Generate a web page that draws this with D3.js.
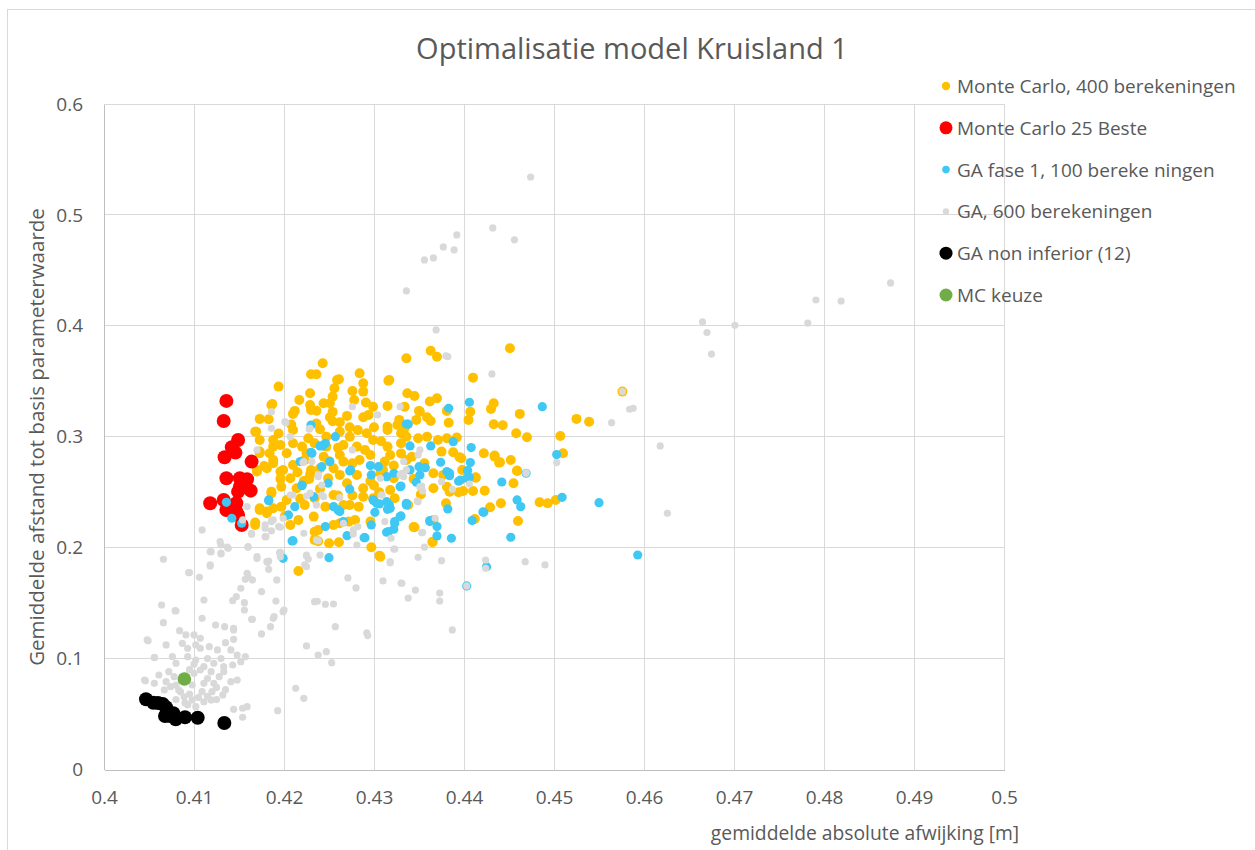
<!DOCTYPE html>
<html>
<head>
<meta charset="utf-8">
<script src="https://cdn.jsdelivr.net/npm/d3@7"></script>
<style>
  body { margin: 0; background: #fff; }
  text { font-family: "Open Sans", sans-serif; fill: #595959; }
</style>
</head>
<body>
<script>
// tick labels
var xTicks = [0.4, 0.41, 0.42, 0.43, 0.44, 0.45, 0.46, 0.47, 0.48, 0.49, 0.5];
var xTickLabels = ["0.4", "0.41", "0.42", "0.43", "0.44", "0.45", "0.46", "0.47", "0.48", "0.49", "0.5"];
var yTicks = [0, 0.1, 0.2, 0.3, 0.4, 0.5, 0.6];
var yTickLabels = ["0", "0.1", "0.2", "0.3", "0.4", "0.5", "0.6"];

var seriesNames = ["Monte Carlo, 400 berekeningen", "Monte Carlo 25 Beste", "GA fase 1, 100 bereke ningen",
  "GA, 600 berekeningen", "GA non inferior (12)", "MC keuze"];

// [gemiddelde absolute afwijking, gemiddelde afstand]
var mc400 = [
  [0.4525,0.3161],[0.4539,0.3136],[0.4510,0.2851],[0.4507,0.3007],[0.4576,0.3407],
  [0.4451,0.3798],[0.4363,0.3776],[0.4370,0.3722],[0.4336,0.3708],[0.4410,0.3533],[0.4316,0.3506],[0.4337,0.3392],
  [0.4345,0.3368],[0.4362,0.3317],[0.4370,0.3347],[0.4315,0.3278],[0.4407,0.3226],[0.4433,0.3302],[0.4430,0.3251],
  [0.4462,0.3206],[0.4405,0.3152],[0.4433,0.3113],[0.4443,0.3104],[0.4458,0.3032],[0.4470,0.2996],[0.4350,0.3233],
  [0.4383,0.3127],[0.4392,0.2993],[0.4422,0.2851],[0.4434,0.2830],[0.4439,0.2767],[0.4452,0.2791],[0.4459,0.2695],
  [0.4455,0.2581],[0.4423,0.2514],[0.4413,0.2635],[0.4410,0.2511],[0.4484,0.2409],[0.4493,0.2400],[0.4502,0.2430],
  [0.4441,0.2400],[0.4429,0.2364],[0.4460,0.2241],[0.4412,0.2259],[0.4345,0.2184],[0.4365,0.2054],[0.4307,0.1919],
  [0.4395,0.2815],[0.4388,0.2860],[0.4375,0.2866],
  [0.4334,0.3271],[0.4351,0.3226],[0.4359,0.3176],[0.4363,0.3142],[0.4347,0.3152],[0.4381,0.3233],[0.4334,0.3076],
  [0.4336,0.3001],[0.4349,0.2987],[0.4359,0.3001],[0.4371,0.2971],[0.4381,0.2987],
  [0.4243,0.3663],[0.4230,0.3563],[0.4236,0.3563],[0.4284,0.3573],[0.4261,0.3518],[0.4194,0.3452],[0.4288,0.3482],
  [0.4256,0.3437],[0.4276,0.3413],[0.4288,0.3407],[0.4229,0.3392],[0.4254,0.3362],[0.4217,0.3332],[0.4187,0.3296],
  [0.4251,0.3302],[0.4291,0.3308],[0.4229,0.3287],[0.4244,0.3302],[0.4278,0.3332],[0.4299,0.3271],[0.4212,0.3233],
  [0.4230,0.3242],[0.4236,0.3235],[0.4254,0.3224],[0.4270,0.3188],[0.4288,0.3176],[0.4210,0.3206],[0.4173,0.3161],
  [0.4183,0.3158],[0.4251,0.3176],[0.4262,0.3131],[0.4294,0.3197],[0.4300,0.3086],[0.4315,0.3091],[0.4328,0.3152],
  [0.4210,0.3061],[0.4169,0.3046],[0.4188,0.2971],[0.4173,0.2971],[0.4273,0.3086],[0.4262,0.3046],[0.4240,0.3068],
  [0.4227,0.2987],[0.4247,0.3001],[0.4273,0.3001],[0.4292,0.3032],[0.4315,0.3061],[0.4326,0.3106],[0.4330,0.3032],
  [0.4299,0.2971],[0.4210,0.2941],[0.4196,0.2926],[0.4188,0.2911],[0.4220,0.2911],[0.4234,0.2941],[0.4247,0.2911],
  [0.4266,0.2926],[0.4281,0.2911],[0.4315,0.2911],[0.4330,0.2941],[0.4173,0.2851],[0.4184,0.2851],[0.4203,0.2851],
  [0.4225,0.2851],[0.4262,0.2836],[0.4296,0.2836],[0.4318,0.2836],
  [0.4170,0.2701],[0.4181,0.2716],[0.4188,0.2761],[0.4199,0.2701],[0.4210,0.2746],[0.4223,0.2791],[0.4240,0.2716],
  [0.4255,0.2716],[0.4266,0.2776],[0.4284,0.2791],[0.4312,0.2776],[0.4186,0.2505],[0.4197,0.2550],[0.4207,0.2626],
  [0.4214,0.2536],[0.4229,0.2656],[0.4249,0.2626],[0.4262,0.2656],[0.4281,0.2656],[0.4288,0.2536],[0.4307,0.2671],
  [0.4322,0.2626],[0.4173,0.2340],[0.4181,0.2325],[0.4188,0.2355],[0.4203,0.2430],[0.4223,0.2385],[0.4234,0.2445],
  [0.4246,0.2370],[0.4255,0.2475],[0.4266,0.2385],[0.4273,0.2385],[0.4283,0.2370],[0.4288,0.2460],[0.4299,0.2445],
  [0.4323,0.2445],[0.4168,0.2205],[0.4216,0.2250],[0.4233,0.2280],[0.4255,0.2205],[0.4262,0.2220],[0.4272,0.2235],
  [0.4279,0.2250],[0.4296,0.2235],[0.4238,0.2160],[0.4234,0.2070],[0.4250,0.2040],[0.4261,0.2049],[0.4297,0.2004],
  [0.4306,0.1928],[0.4216,0.1790],
  [0.4336,0.2791],[0.4366,0.2671],[0.4377,0.2656],[0.4366,0.2536],[0.4381,0.2550],[0.4384,0.2505],[0.4394,0.2499],
  [0.4399,0.2511],[0.4413,0.2631],[0.4440,0.2770],[0.4459,0.2692],[0.4338,0.2385],[0.4344,0.2187],[0.4366,0.2250],
  [0.4365,0.2049],[0.4397,0.2806],[0.4434,0.2821],
  [0.4168,0.3046],[0.4186,0.3287],[0.4173,0.2866],[0.4178,0.2737],[0.4170,0.2686],[0.4188,0.2791],[0.4196,0.2686],
  [0.4186,0.2491],[0.4197,0.2370],[0.4173,0.2355],[0.4181,0.2310],[0.4168,0.2226],[0.4201,0.2286],[0.4207,0.2205],
  [0.4234,0.2144],[0.4238,0.2058],[0.4317,0.3512],[0.4259,0.3512],
  [0.4196,0.2620],[0.4222,0.2600],[0.4270,0.2580],[0.4300,0.2560],[0.4318,0.2520],[0.4240,0.2530],[0.4260,0.2470],
  [0.4310,0.2700],[0.4330,0.2850],[0.4290,0.2880],[0.4260,0.2900],[0.4250,0.2780],[0.4230,0.2700],[0.4215,0.2680],
  [0.4244,0.2820],[0.4276,0.2760],[0.4296,0.2600],[0.4322,0.2740],[0.4342,0.2820],[0.4356,0.2760],[0.4308,0.2960],
  [0.4282,0.3060],[0.4254,0.3140],[0.4236,0.3120],[0.4208,0.3110],[0.4194,0.3030],[0.4228,0.2620],[0.4218,0.2440],
  [0.4276,0.2470],[0.4306,0.2500],[0.4344,0.2620],[0.4352,0.2480],[0.4380,0.2400],[0.4398,0.2700]
];

var mcBest = [
  [0.4136,0.3323],[0.4133,0.3142],[0.4149,0.2971],[0.4142,0.2905],[0.4146,0.2857],[0.4134,0.2815],[0.4164,0.2776],
  [0.4136,0.2626],[0.4151,0.2626],[0.4159,0.2617],[0.4163,0.2514],[0.4149,0.2505],[0.4118,0.2400],[0.4133,0.2430],
  [0.4147,0.2400],[0.4136,0.2340],[0.4147,0.2325],[0.4149,0.2295],[0.4153,0.2205],[0.4151,0.2550]
];

var gaFase1 = [
  [0.4509,0.2454],[0.4550,0.2406],[0.4593,0.1934],[0.4406,0.3311],[0.4487,0.3271],[0.4383,0.3257],[0.4408,0.2902],
  [0.4503,0.2839],[0.4407,0.2767],[0.4404,0.2695],[0.4384,0.2671],[0.4394,0.2599],[0.4406,0.2635],[0.4442,0.2592],
  [0.4459,0.2430],[0.4463,0.2370],[0.4421,0.2322],[0.4409,0.2244],[0.4452,0.2094],[0.4386,0.2085],[0.4370,0.2106],
  [0.4370,0.2190],[0.4362,0.2235],[0.4382,0.2349],[0.4330,0.2286],[0.4323,0.2220],[0.4322,0.2166],[0.4316,0.2144],
  [0.4336,0.2400],[0.4315,0.2346],[0.4350,0.2730],[0.4340,0.2917],[0.4363,0.2917],[0.4351,0.2656],[0.4330,0.2556],
  [0.4322,0.2671],[0.4425,0.1829],[0.4403,0.1655],[0.4338,0.3113],[0.4388,0.2956],[0.4230,0.3106],[0.4257,0.3001],
  [0.4246,0.2941],[0.4240,0.2917],[0.4230,0.2860],[0.4336,0.3115],
  [0.4218,0.2776],[0.4251,0.2776],[0.4273,0.2692],[0.4296,0.2740],[0.4305,0.2730],[0.4297,0.2656],[0.4314,0.2640],
  [0.4220,0.2565],[0.4273,0.2527],[0.4329,0.2550],[0.4183,0.2430],[0.4212,0.2370],[0.4233,0.2460],[0.4255,0.2370],
  [0.4299,0.2430],[0.4303,0.2400],[0.4314,0.2415],[0.4318,0.2355],[0.4336,0.2385],[0.4205,0.2295],[0.4262,0.2325],
  [0.4301,0.2319],[0.4246,0.2190],[0.4297,0.2205],[0.4270,0.2108],[0.4290,0.2090],[0.4314,0.2139],[0.4209,0.2060],
  [0.4199,0.1904],[0.4250,0.1910],
  [0.4336,0.2391],[0.4329,0.2280],[0.4362,0.2244],[0.4422,0.2319],[0.4381,0.2686],[0.4384,0.2649],[0.4396,0.2610],
  [0.4403,0.2626],[0.4357,0.2721],[0.4347,0.2590],[0.4374,0.2770],[0.4340,0.2701],[0.4469,0.2671],
  [0.4136,0.2409],[0.4142,0.2265],[0.4153,0.2220],[0.4183,0.2424],[0.4210,0.2063],[0.4220,0.2559],[0.4231,0.2851],
  [0.4243,0.2917],[0.4242,0.2730],[0.4274,0.2701],[0.4306,0.2394],[0.4249,0.2581],[0.4260,0.2340],[0.4266,0.2235],
  [0.4289,0.2090],[0.4300,0.2424],[0.4317,0.2385],[0.4323,0.2235]
];

var ga600 = [
  [0.4474,0.5342],[0.4432,0.4883],[0.4456,0.4775],[0.4392,0.4820],[0.4377,0.4711],[0.4389,0.4684],[0.4366,0.4612],
  [0.4356,0.4594],[0.4336,0.4315],[0.4369,0.3963],[0.4380,0.3729],[0.4431,0.3566],[0.4665,0.4035],[0.4670,0.3940],
  [0.4675,0.3745],[0.4701,0.4005],[0.4782,0.4025],[0.4791,0.4233],[0.4819,0.4224],[0.4874,0.4387],
  [0.4576,0.3407],[0.4584,0.3248],[0.4588,0.3257],[0.4564,0.3127],[0.4618,0.2917],[0.4626,0.2310],
  [0.4382,0.3722],[0.4503,0.2767],[0.4469,0.2676],[0.4406,0.2574],[0.4349,0.1913],[0.4375,0.1883],[0.4318,0.1865],
  [0.4424,0.1889],[0.4424,0.1814],[0.4490,0.1844],[0.4468,0.1874],[0.4403,0.1655],[0.4331,0.1679],[0.4323,0.1986],
  [0.4353,0.2135],[0.4312,0.2235],[0.4319,0.2085],[0.4349,0.2415],[0.4368,0.2265],[0.4351,0.2881],[0.4333,0.2776],
  [0.4331,0.2671],[0.4353,0.2556],[0.4387,0.2527],[0.4308,0.2475],[0.4329,0.3271],[0.4349,0.2836],
  [0.4186,0.3226],[0.4202,0.3127],[0.4186,0.3076],[0.4207,0.3001],[0.4228,0.3068],[0.4276,0.3271],[0.4304,0.3197],
  [0.4170,0.2881],[0.4276,0.2881],
  [0.4222,0.2776],[0.4231,0.2776],[0.4238,0.2656],[0.4242,0.2565],[0.4229,0.2491],[0.4207,0.2475],[0.4244,0.2460],
  [0.4236,0.2385],[0.4262,0.2451],[0.4307,0.2626],[0.4329,0.2656],[0.4309,0.2475],[0.4159,0.2370],[0.4199,0.2265],
  [0.4266,0.2220],[0.4277,0.2160],[0.4282,0.2190],[0.4277,0.2124],[0.4186,0.2241],[0.4179,0.2205],[0.4194,0.2190],
  [0.4186,0.2151],[0.4164,0.2121],[0.4179,0.2099],[0.4222,0.2130],[0.4236,0.2070],[0.4160,0.2009],[0.4196,0.1958],
  [0.4225,0.1934],[0.4227,0.1898],[0.4240,0.1934],[0.4170,0.1919],[0.4183,0.1880],[0.4223,0.1844],[0.4281,0.2024],
  [0.4322,0.1988],[0.4318,0.1874],[0.4159,0.1769],
  [0.4336,0.2701],[0.4333,0.2640],[0.4351,0.2550],[0.4354,0.2511],[0.4375,0.2595],[0.4348,0.2421],[0.4354,0.2139],
  [0.4469,0.2671],
  [0.4066,0.1895],[0.4095,0.1775],[0.4106,0.1733],[0.4109,0.2160],[0.4118,0.1964],[0.4118,0.1835],[0.4129,0.2054],
  [0.4130,0.1950],[0.4137,0.2004],[0.4160,0.2004],[0.4170,0.1904],[0.4181,0.1874],[0.4183,0.1805],[0.4157,0.1715],
  [0.4160,0.1738],[0.4192,0.1709],[0.4164,0.2130],[0.4179,0.2175],[0.4186,0.2235],[0.4196,0.2184],[0.4180,0.2099],
  [0.4196,0.1919],[0.4225,0.1925],[0.4225,0.1829],[0.4201,0.3136],[0.4229,0.3076],[0.4221,0.2767],[0.4238,0.2640],
  [0.4154,0.2250],[0.4238,0.2063],[0.4225,0.2466],[0.4242,0.2475],[0.4210,0.2475],[0.4188,0.2250],
  [0.4130,0.2024],[0.4119,0.1964],[0.4130,0.1943],[0.4138,0.1994],[0.4118,0.1844],[0.4182,0.1868],[0.4195,0.1955],
  [0.4094,0.1775],[0.4165,0.1709],[0.4175,0.1603],[0.4152,0.1634],[0.4147,0.1558],[0.4143,0.1522],[0.4156,0.1504],
  [0.4156,0.1438],[0.4111,0.1528],[0.4064,0.1483],[0.4079,0.1432],[0.4109,0.1363],[0.4066,0.1324],[0.4165,0.1354],
  [0.4191,0.1519],[0.4200,0.1438],[0.4189,0.1378],[0.4185,0.1288],[0.4124,0.1303],[0.4134,0.1288],[0.4144,0.1273],
  [0.4144,0.1174],[0.4175,0.1222],[0.4084,0.1252],[0.4091,0.1213],[0.4100,0.1213],[0.4107,0.1183],[0.4048,0.1168],
  [0.4069,0.1123],[0.4087,0.1138],[0.4093,0.1093],[0.4102,0.1123],[0.4107,0.1093],[0.4117,0.1107],[0.4126,0.1078],
  [0.4135,0.1143],[0.4141,0.1078],[0.4148,0.1032],[0.4157,0.1017],[0.4152,0.0972],[0.4143,0.0942],[0.4133,0.0927],
  [0.4122,0.0958],[0.4111,0.0927],[0.4102,0.0987],[0.4093,0.1017],[0.4076,0.1017],[0.4056,0.1012],[0.4080,0.0958],
  [0.4072,0.0882],[0.4061,0.0852],[0.4045,0.0807],[0.4056,0.0777],[0.4069,0.0792],[0.4078,0.0837],[0.4100,0.0867],
  [0.4107,0.0897],[0.4119,0.0882],[0.4128,0.0837],[0.4133,0.0882],[0.4141,0.0792],[0.4148,0.0807],[0.4122,0.0777],
  [0.4111,0.0777],[0.4098,0.0762],[0.4109,0.0702],[0.4120,0.0702],[0.4132,0.0672],[0.4083,0.0717],[0.4074,0.0747],
  [0.4067,0.0717],[0.4089,0.0656],[0.4098,0.0627],[0.4111,0.0611],[0.4119,0.0627],[0.4093,0.0582],[0.4102,0.0566],
  [0.4154,0.0552],[0.4159,0.0566],[0.4193,0.0530],[0.4213,0.0732],[0.4046,0.0801],[0.4056,0.1008],[0.4049,0.1161],
  [0.4080,0.1429],[0.4225,0.1114],[0.4238,0.1032],[0.4247,0.1062],[0.4253,0.0963],[0.4293,0.1207],[0.4222,0.0642],
  [0.4154,0.0471],[0.4144,0.0543],[0.4188,0.1363],[0.4199,0.1423],[0.4257,0.1288],[0.4255,0.1492],[0.4234,0.1513],
  [0.4164,0.1354],[0.4144,0.1258],
  [0.4085,0.0700],[0.4095,0.0680],[0.4105,0.0650],[0.4115,0.0660],[0.4125,0.0630],[0.4090,0.0800],[0.4080,0.0760],
  [0.4115,0.0820],[0.4125,0.0740],[0.4135,0.0720],[0.4095,0.0900],[0.4100,0.0950],[0.4115,0.1000],[0.4130,0.1000],
  [0.4090,0.0600],[0.4080,0.0630],
  [0.4237,0.1517],[0.4246,0.1490],[0.4280,0.1637],[0.4271,0.1727],[0.4292,0.1231],[0.4310,0.1700],[0.4338,0.1546],
  [0.4346,0.1618],[0.4330,0.1681],[0.4373,0.1519],[0.4373,0.1591],[0.4387,0.1258],[0.4356,0.2005]
];

var gaNonInferior = [
  [0.40467,0.0633],[0.40548,0.0602],[0.40652,0.0591],[0.40689,0.0561],[0.40678,0.0482],[0.40770,0.0507],
  [0.40797,0.0453],[0.40900,0.0471],[0.41041,0.0467],[0.41337,0.0419],[0.40600,0.0600],[0.40733,0.0482]
];

var mcKeuze = [[0.40893,0.0816]];

var colors = ["#ffc000", "#ff0000", "#3fc8f4", "#d9d9d9", "#000000", "#70ad47"];
var radii = [5, 7, 4.6, 3.6, 7, 6.8];
var legendRadii = [4.2, 6.5, 3.8, 3.2, 6.5, 6.5];
var allSeries = [mc400, mcBest, gaFase1, ga600, gaNonInferior, mcKeuze];

var width = 1255, height = 850;

var svg = d3.select("body").append("svg")
    .attr("width", width)
    .attr("height", height);

// chart border
svg.append("rect")
    .attr("x", 7.5).attr("y", 9.5)
    .attr("width", 1270).attr("height", 870)
    .attr("fill", "none")
    .attr("stroke", "#d9d9d9");

var x = d3.scaleLinear().domain([0.4, 0.5]).range([104, 1004]);
var y = d3.scaleLinear().domain([0, 0.6]).range([769.5, 104]);

// gridlines
var grid = svg.append("g").attr("shape-rendering", "crispEdges");
grid.selectAll(".vg").data(xTicks.slice(1)).enter().append("line")
    .attr("x1", function(d) { return x(d); }).attr("x2", function(d) { return x(d); })
    .attr("y1", y(0)).attr("y2", y(0.6))
    .attr("stroke", "#d9d9d9");
grid.selectAll(".hg").data(yTicks.slice(1)).enter().append("line")
    .attr("x1", x(0.4)).attr("x2", x(0.5))
    .attr("y1", function(d) { return y(d); }).attr("y2", function(d) { return y(d); })
    .attr("stroke", "#d9d9d9");

// axes
var xAxis = d3.axisBottom(x).tickValues(xTicks).tickSize(0).tickPadding(21)
    .tickFormat(function(d, i) { return xTickLabels[i]; });
var yAxis = d3.axisLeft(y).tickValues(yTicks).tickSize(0).tickPadding(21)
    .tickFormat(function(d, i) { return yTickLabels[i]; });

var gx = svg.append("g")
    .attr("transform", "translate(0," + y(0) + ")")
    .call(xAxis);
var gy = svg.append("g")
    .attr("transform", "translate(" + x(0.4) + ",0)")
    .call(yAxis);
[gx, gy].forEach(function(g) {
  g.select(".domain").attr("stroke", "#bfbfbf").attr("shape-rendering", "crispEdges");
  g.selectAll("text").style("font-family", "'Open Sans', sans-serif")
    .style("font-size", "19px").attr("fill", "#595959");
});

// points
allSeries.forEach(function(data, s) {
  svg.append("g").selectAll("circle")
      .data(data)
    .enter().append("circle")
      .attr("cx", function(d) { return x(d[0]); })
      .attr("cy", function(d) { return y(d[1]); })
      .attr("r", radii[s])
      .attr("fill", colors[s]);
});

// title
svg.append("text")
    .attr("x", 632).attr("y", 59)
    .attr("text-anchor", "middle")
    .style("font-size", "29px")
    .text("Optimalisatie model Kruisland 1");

// axis titles
svg.append("text")
    .attr("x", 865).attr("y", 840)
    .attr("text-anchor", "middle")
    .style("font-size", "19.3px")
    .text("gemiddelde absolute afwijking [m]");

svg.append("text")
    .attr("transform", "translate(44,437) rotate(-90)")
    .attr("text-anchor", "middle")
    .style("font-size", "20.5px")
    .text("Gemiddelde afstand tot basis parameterwaarde");

// legend
var legend = svg.append("g").selectAll("g")
    .data(seriesNames)
  .enter().append("g")
    .attr("transform", function(d, i) { return "translate(946," + (86 + i * 41.8) + ")"; });
legend.append("circle")
    .attr("r", function(d, i) { return legendRadii[i]; })
    .attr("fill", function(d, i) { return colors[i]; });
legend.append("text")
    .attr("x", 11).attr("y", 7)
    .style("font-size", "19px")
    .text(function(d) { return d; });
</script>
</body>
</html>
